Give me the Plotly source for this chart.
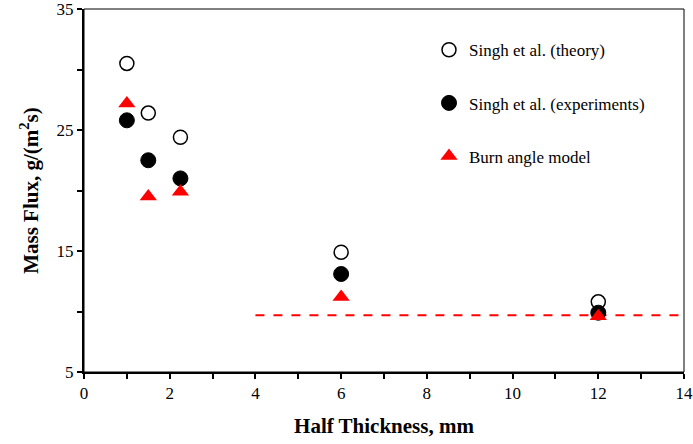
import plotly.graph_objects as go

half_thickness = [1.0, 1.5, 2.25, 6.0, 12.0]
theory = [30.5, 26.4, 24.4, 14.9, 10.8]
experiments = [25.8, 22.5, 21.0, 13.1, 9.9]
burn_angle = [27.2, 19.5, 19.9, 11.2, 9.6]
asymptote_x = [4, 14]
asymptote_y = [9.7, 9.7]

serif = "Times New Roman, Liberation Serif, serif"

fig = go.Figure()
fig.add_trace(go.Scatter(
    x=asymptote_x, y=asymptote_y, mode="lines",
    line=dict(color="#ff0000", width=2, dash="dash"),
    showlegend=False, hoverinfo="skip"))
fig.add_trace(go.Scatter(
    x=half_thickness, y=theory, mode="markers", name="Singh et al. (theory)",
    legendgroup="a",
    marker=dict(symbol="circle", size=14, color="white",
                line=dict(color="black", width=1.5))))
fig.add_trace(go.Scatter(
    x=half_thickness, y=experiments, mode="markers", name="Singh et al. (experiments)",
    legendgroup="b",
    marker=dict(symbol="circle", size=15, color="black",
                line=dict(color="black", width=1))))
fig.add_trace(go.Scatter(
    x=half_thickness, y=burn_angle, mode="markers", name="Burn angle model",
    legendgroup="c",
    marker=dict(symbol="triangle-up", size=15, color="#ff0000",
                line=dict(color="#ff0000", width=0))))

axis_common = dict(
    showgrid=False, zeroline=False, showline=True, linecolor="black", linewidth=2,
    ticks="outside", ticklen=5, tickwidth=1.5, tickcolor="black", automargin=False,
    ticklabeloverflow="allow",
    tickfont=dict(family=serif, size=17, color="black"),
)

fig.update_layout(
    width=693, height=444,
    margin=dict(l=84, r=9, t=9, b=72),
    plot_bgcolor="white", paper_bgcolor="white",
    font=dict(family=serif, color="black"),
    xaxis=dict(
        range=[0, 14], dtick=2, tick0=0,
        minor=dict(dtick=1, ticks="outside", ticklen=5, tickwidth=1.5, tickcolor="black"),
        title=dict(text="<b>Half Thickness, mm</b>", font=dict(family=serif, size=21), standoff=16),
        **axis_common),
    yaxis=dict(
        range=[5, 35], dtick=10, tick0=5,
        minor=dict(dtick=5, ticks="outside", ticklen=5, tickwidth=1.5, tickcolor="black"),
        title=dict(text="<b>Mass Flux, g/(m<sup>2</sup>s)</b>", font=dict(family=serif, size=21), standoff=12),
        **axis_common),
    legend=dict(
        x=0.575, y=0.936, xanchor="left", yanchor="top",
        font=dict(family=serif, size=17, color="black"),
        bgcolor="rgba(0,0,0,0)", tracegroupgap=28, itemwidth=30,
    ),
    shapes=[dict(type="rect", xref="paper", yref="paper", x0=0, x1=1, y0=0, y1=1,
                 line=dict(color="black", width=1), layer="above")],
)

fig.write_html("out.html")
